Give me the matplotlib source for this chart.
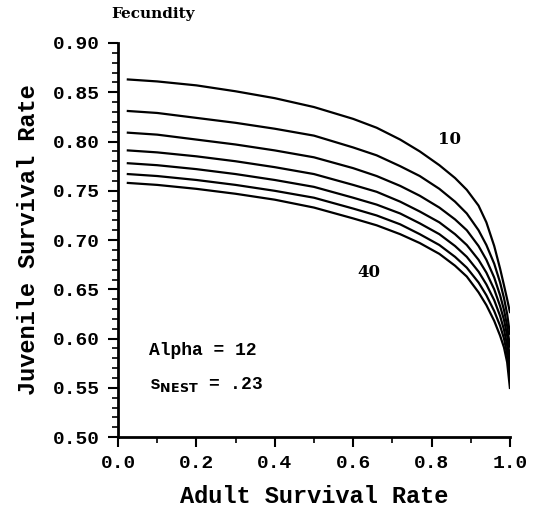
import matplotlib
matplotlib.use("Agg")
import matplotlib.pyplot as plt
import numpy as np
from matplotlib.ticker import MultipleLocator

# adult survival rate (x) where the curves were read
adultSurvival = [0.025, 0.10, 0.20, 0.30, 0.40, 0.50, 0.60, 0.66, 0.72, 0.77,
                 0.82, 0.86, 0.89, 0.92, 0.94, 0.96, 0.975, 0.985, 0.993, 1.0]

# juvenile survival rate for each fecundity
fecundity = [10, 15, 20, 25, 30, 35, 40]
juv10 = [0.863, 0.861, 0.857, 0.851, 0.844, 0.835, 0.823, 0.814, 0.802, 0.790,
         0.776, 0.763, 0.751, 0.735, 0.718, 0.694, 0.671, 0.654, 0.640, 0.627]
juv15 = [0.831, 0.829, 0.824, 0.819, 0.813, 0.806, 0.794, 0.786, 0.775, 0.765,
         0.752, 0.739, 0.727, 0.710, 0.695, 0.676, 0.657, 0.641, 0.625, 0.605]
juv20 = [0.809, 0.807, 0.802, 0.797, 0.791, 0.784, 0.773, 0.765, 0.755, 0.745,
         0.733, 0.721, 0.710, 0.694, 0.680, 0.662, 0.644, 0.629, 0.613, 0.592]
juv25 = [0.791, 0.789, 0.785, 0.780, 0.774, 0.767, 0.756, 0.749, 0.739, 0.729,
         0.718, 0.706, 0.695, 0.680, 0.667, 0.650, 0.633, 0.619, 0.603, 0.580]
juv30 = [0.778, 0.776, 0.772, 0.767, 0.761, 0.754, 0.743, 0.736, 0.727, 0.717,
         0.706, 0.694, 0.683, 0.668, 0.655, 0.639, 0.623, 0.609, 0.593, 0.570]
juv35 = [0.767, 0.765, 0.761, 0.756, 0.750, 0.743, 0.732, 0.725, 0.716, 0.706,
         0.695, 0.683, 0.672, 0.657, 0.644, 0.628, 0.613, 0.600, 0.584, 0.560]
juv40 = [0.758, 0.756, 0.752, 0.747, 0.741, 0.733, 0.722, 0.715, 0.706, 0.697,
         0.686, 0.674, 0.663, 0.647, 0.634, 0.618, 0.603, 0.591, 0.576, 0.550]

xTicks = [0.0, 0.2, 0.4, 0.6, 0.8, 1.0]
yTicks = [0.50, 0.55, 0.60, 0.65, 0.70, 0.75, 0.80, 0.85, 0.90]

FONT = "Liberation Mono"

fig = plt.figure(figsize=(5.39, 5.18), dpi=100)
ax = fig.add_axes([0.219, 0.156, 0.727, 0.761])

for curve in [juv10, juv15, juv20, juv25, juv30, juv35, juv40]:
    ax.plot(adultSurvival, curve, color="black", linewidth=1.6, solid_joinstyle="round")

ax.set_xlim(0.0, 1.0)
ax.set_ylim(0.50, 0.90)
ax.set_xticks(xTicks)
ax.set_yticks(yTicks)
ax.set_xticklabels([f"{v:.1f}" for v in xTicks], fontfamily=FONT, fontweight="bold", fontsize=14)
ax.set_yticklabels([f"{v:.2f}" for v in yTicks], fontfamily=FONT, fontweight="bold", fontsize=14)
ax.xaxis.set_minor_locator(MultipleLocator(0.1))
ax.yaxis.set_minor_locator(MultipleLocator(0.01))
ax.tick_params(which="major", length=7, width=1.5, direction="out", pad=6)
ax.tick_params(which="minor", length=4, width=1.2, direction="out")

for side in ["top", "right"]:
    ax.spines[side].set_visible(False)
for side in ["left", "bottom"]:
    ax.spines[side].set_linewidth(2)

ax.set_xlabel("Adult Survival Rate", fontfamily=FONT, fontweight="bold", fontsize=17, labelpad=9)
ax.set_ylabel("Juvenile Survival Rate", fontfamily=FONT, fontweight="bold", fontsize=17, labelpad=9)

fig.text(0.207, 0.973, "Fecundity", fontfamily="DejaVu Serif", fontweight="bold", fontsize=11,
         ha="left", va="center")

ax.text(0.845, 0.802, str(fecundity[0]), fontfamily="DejaVu Serif", fontweight="bold", fontsize=12,
        ha="center", va="center")
ax.text(0.640, 0.667, str(fecundity[-1]), fontfamily="DejaVu Serif", fontweight="bold", fontsize=12,
        ha="center", va="center")

ax.text(0.08, 0.588, "Alpha = 12", fontfamily=FONT, fontweight="bold", fontsize=13,
        ha="left", va="center")
ax.text(0.08, 0.553, r"s$_{\mathbf{NEST}}$ = .23", fontfamily=FONT, fontweight="bold", fontsize=13,
        ha="left", va="center")

fig.savefig("out.png", dpi=100, facecolor="white")
